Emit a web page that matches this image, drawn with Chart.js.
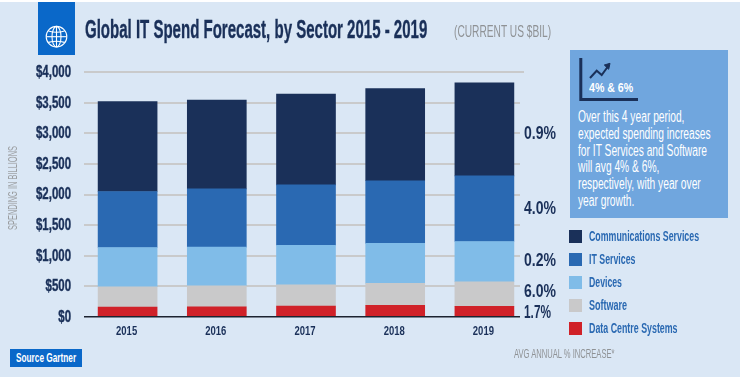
<!DOCTYPE html>
<html>
<head>
<meta charset="utf-8">
<script src="https://cdn.jsdelivr.net/npm/chart.js@4"></script>
<style>
html, body { margin: 0; padding: 0; background: #dae7f5; }
body { width: 740px; height: 377px; position: relative; overflow: hidden; font-family: "Liberation Sans", sans-serif; }
#topline { position: absolute; left: 0; top: 0; width: 740px; height: 2px; background: #fff; }
#wrap { position: absolute; left: 0; top: 0; width: 740px; height: 377px; }
.t { position: absolute; white-space: nowrap; transform-origin: left center; }
#iconbox { position: absolute; left: 38px; top: 2px; width: 37px; height: 53px; background: #0a68c9; }
#title { left: 85px; top: 12px; font-size: 26px; line-height: 34px; font-weight: bold; color: #1a3059; -webkit-text-stroke: 0.4px #1a3059; }
#sub { left: 454px; top: 22px; font-size: 17px; line-height: 20px; color: #8f9295; }
#panel { position: absolute; left: 570px; top: 50px; width: 158px; height: 168px; background: #70a6de; }
#panel-head { left: 589px; top: 79px; font-size: 13px; line-height: 17px; font-weight: bold; color: #fff; }
#panel-text { left: 578px; top: 109px; font-size: 16px; line-height: 16.8px; color: #fff; }
.pct { left: 524px; font-size: 18px; line-height: 22px; font-weight: bold; color: #1a3059; }
.sw { position: absolute; left: 569px; width: 13px; height: 13px; }
.lg { left: 589px; font-size: 14px; line-height: 16px; font-weight: bold; color: #2a69b2; }
#sourcebox { position: absolute; left: 10px; top: 349px; width: 72px; height: 18px; background: #0a68c9; }
#source { left: 16px; top: 349px; color: #fff; font-size: 13.5px; line-height: 18px; font-weight: bold; }
#avg { left: 514px; top: 346px; font-size: 12px; line-height: 16px; color: #8f9295; }
#ylab { left: 13px; top: 188px; font-size: 12.5px; line-height: 14px; color: #9a9da0; }
</style>
</head>
<body>
<div id="wrap"><canvas id="chart" width="740" height="377"></canvas></div>
<div id="topline"></div>
<div id="iconbox">
  <svg width="37" height="53" viewBox="0 0 37 53" fill="none" stroke="#fff" stroke-width="1.1">
    <circle cx="18.5" cy="34.7" r="10.3"/>
    <ellipse cx="18.5" cy="34.7" rx="4.5" ry="10.3"/>
    <line x1="18.5" y1="24.4" x2="18.5" y2="45"/>
    <line x1="8.2" y1="34.7" x2="28.8" y2="34.7"/>
    <path d="M10.5 29 Q18.5 31.5 26.5 29"/>
    <path d="M10.5 40.4 Q18.5 38 26.5 40.4"/>
  </svg>
</div>
<div class="t" id="title" data-w="342">Global IT Spend Forecast, by Sector 2015 - 2019</div>
<div class="t" id="sub" data-w="97">(CURRENT US $BIL)</div>
<div id="panel"></div>
<svg style="position:absolute;left:570px;top:50px" width="158" height="60" fill="none">
  <path d="M10.8 8 V49.5 H68" stroke="#1a3059" stroke-width="3"/>
  <path d="M20 28 L26.7 20.7 L31.7 25 L39 15" stroke="#1a3059" stroke-width="2"/>
  <path d="M34.3 15 L40 13.3 L38.7 19.3 Z" fill="#1a3059" stroke="#1a3059"/>
</svg>
<div class="t" id="panel-head" data-w="44">4% &amp; 6%</div>
<div class="t" id="panel-text" data-w="132.5">Over this 4 year period,<br>expected spending increases<br>for IT Services and Software<br>will avg 4% &amp; 6%,<br>respectively, with year over<br>year growth.</div>
<div id="labels"></div>
<div id="sourcebox"></div>
<div class="t" id="source" data-w="60">Source Gartner</div>
<div class="t" id="avg" data-w="100.7">AVG ANNUAL % INCREASE*</div>
<div class="t" id="ylab" data-w="84" data-rot="1">SPENDING IN BILLIONS</div>
<script>
const years = ['2015', '2016', '2017', '2018', '2019'];
const dataCentre = [163, 168, 179, 189, 173];
const software = [331, 342, 348, 359, 403];
const devices = [641, 632, 644, 653, 657];
const itServices = [914, 951, 987, 1023, 1072];
const communications = [1468, 1447, 1480, 1506, 1517];

const legendNames = ['Communications Services', 'IT Services', 'Devices', 'Software', 'Data Centre Systems'];
const legendWidths = [110, 46.5, 33, 38, 88.5];
const legendColors = ['#1a3059', '#2a69b2', '#80bce8', '#c9c9ca', '#d02128'];
const legendTops = [230, 253, 276, 299, 322];
const pctLabels = ['0.9%', '4.0%', '0.2%', '6.0%', '1.7%'];
const pctWidths = [32, 32, 32, 32, 27];
const pctTops = [122, 197, 249, 280, 301];

const labelsBox = document.getElementById('labels');
legendNames.forEach((name, i) => {
    labelsBox.insertAdjacentHTML('beforeend',
        `<div class="sw" style="top:${legendTops[i]}px;background:${legendColors[i]}"></div>` +
        `<div class="t lg" data-w="${legendWidths[i]}" style="top:${legendTops[i] - 2}px">${name}</div>`);
});
pctLabels.forEach((txt, i) => {
    labelsBox.insertAdjacentHTML('beforeend',
        `<div class="t pct" data-w="${pctWidths[i]}" style="top:${pctTops[i]}px">${txt}</div>`);
});

// no condensed face is installed, so squeeze each text to the width in the picture
document.querySelectorAll('[data-w]').forEach(el => {
    const sx = el.dataset.w / el.offsetWidth;
    if (el.dataset.rot) {
        el.style.transformOrigin = 'center center';
        el.style.transform = `translate(-50%, -50%) rotate(-90deg) scaleX(${sx})`;
    } else {
        el.style.transform = `scaleX(${sx})`;
    }
});

// gridlines stop short of the category band on the right, and the tick labels are condensed
const customAxes = {
    id: 'customAxes',
    beforeDatasetsDraw(chart) {
        const y = chart.scales.y;
        const ctx = chart.ctx;
        ctx.save();
        ctx.fillStyle = '#c9cacb';
        y.ticks.forEach(tick => {
            if (tick.value === 0) return;
            const py = Math.round(y.getPixelForValue(tick.value));
            ctx.fillRect(84, py - 1, (tick.value === 4000 ? 524 : 520) - 84, 2);
        });
        ctx.restore();
    },
    afterDatasetsDraw(chart) {
        const { x, y } = chart.scales;
        const ctx = chart.ctx;
        const base = Math.round(y.getPixelForValue(0));
        ctx.save();
        ctx.fillStyle = '#1c2330';
        ctx.fillRect(84, base - 1, 436, 1.5);
        ctx.fillStyle = '#1a3059';
        ctx.strokeStyle = '#1a3059';
        ctx.lineWidth = 0.4;
        ctx.textBaseline = 'middle';

        ctx.font = 'bold 16px "Liberation Sans"';
        ctx.textAlign = 'right';
        y.ticks.forEach(tick => {
            ctx.save();
            ctx.translate(71, y.getPixelForValue(tick.value) + 0.5);
            ctx.scale(0.715, 1);
            ctx.fillText(tick.label, 0, 0);
            ctx.strokeText(tick.label, 0, 0);
            ctx.restore();
        });

        ctx.font = 'bold 13px "Liberation Sans"';
        ctx.textAlign = 'center';
        x.ticks.forEach((tick, i) => {
            ctx.save();
            ctx.translate(x.getPixelForTick(i) - 1, 331.5);
            ctx.scale(0.73, 1);
            ctx.fillText(tick.label, 0, 0);
            ctx.restore();
        });
        ctx.restore();
    }
};

new Chart(document.getElementById('chart'), {
    type: 'bar',
    data: {
        labels: years,
        datasets: [
            { label: 'Data Centre Systems', data: dataCentre, backgroundColor: '#d02128' },
            { label: 'Software', data: software, backgroundColor: '#c9c9ca' },
            { label: 'Devices', data: devices, backgroundColor: '#80bce8' },
            { label: 'IT Services', data: itServices, backgroundColor: '#2a69b2' },
            { label: 'Communications Services', data: communications, backgroundColor: '#1a3059' }
        ]
    },
    options: {
        responsive: false,
        animation: false,
        layout: { padding: { left: 0, right: 211, top: 72, bottom: 0 } },
        plugins: { legend: { display: false }, tooltip: { enabled: false } },
        datasets: { bar: { barThickness: 59 } },
        scales: {
            x: {
                stacked: true,
                grid: { display: false },
                border: { display: false },
                ticks: { display: false },
                afterFit(scale) { scale.height = 60; }
            },
            y: {
                stacked: true,
                min: 0,
                max: 4000,
                grid: { display: false },
                border: { display: false },
                ticks: {
                    display: false,
                    stepSize: 500,
                    callback: v => '$' + v.toLocaleString('en-US')
                },
                afterFit(scale) { scale.width = 83; }
            }
        }
    },
    plugins: [customAxes]
});
</script>
</body>
</html>
